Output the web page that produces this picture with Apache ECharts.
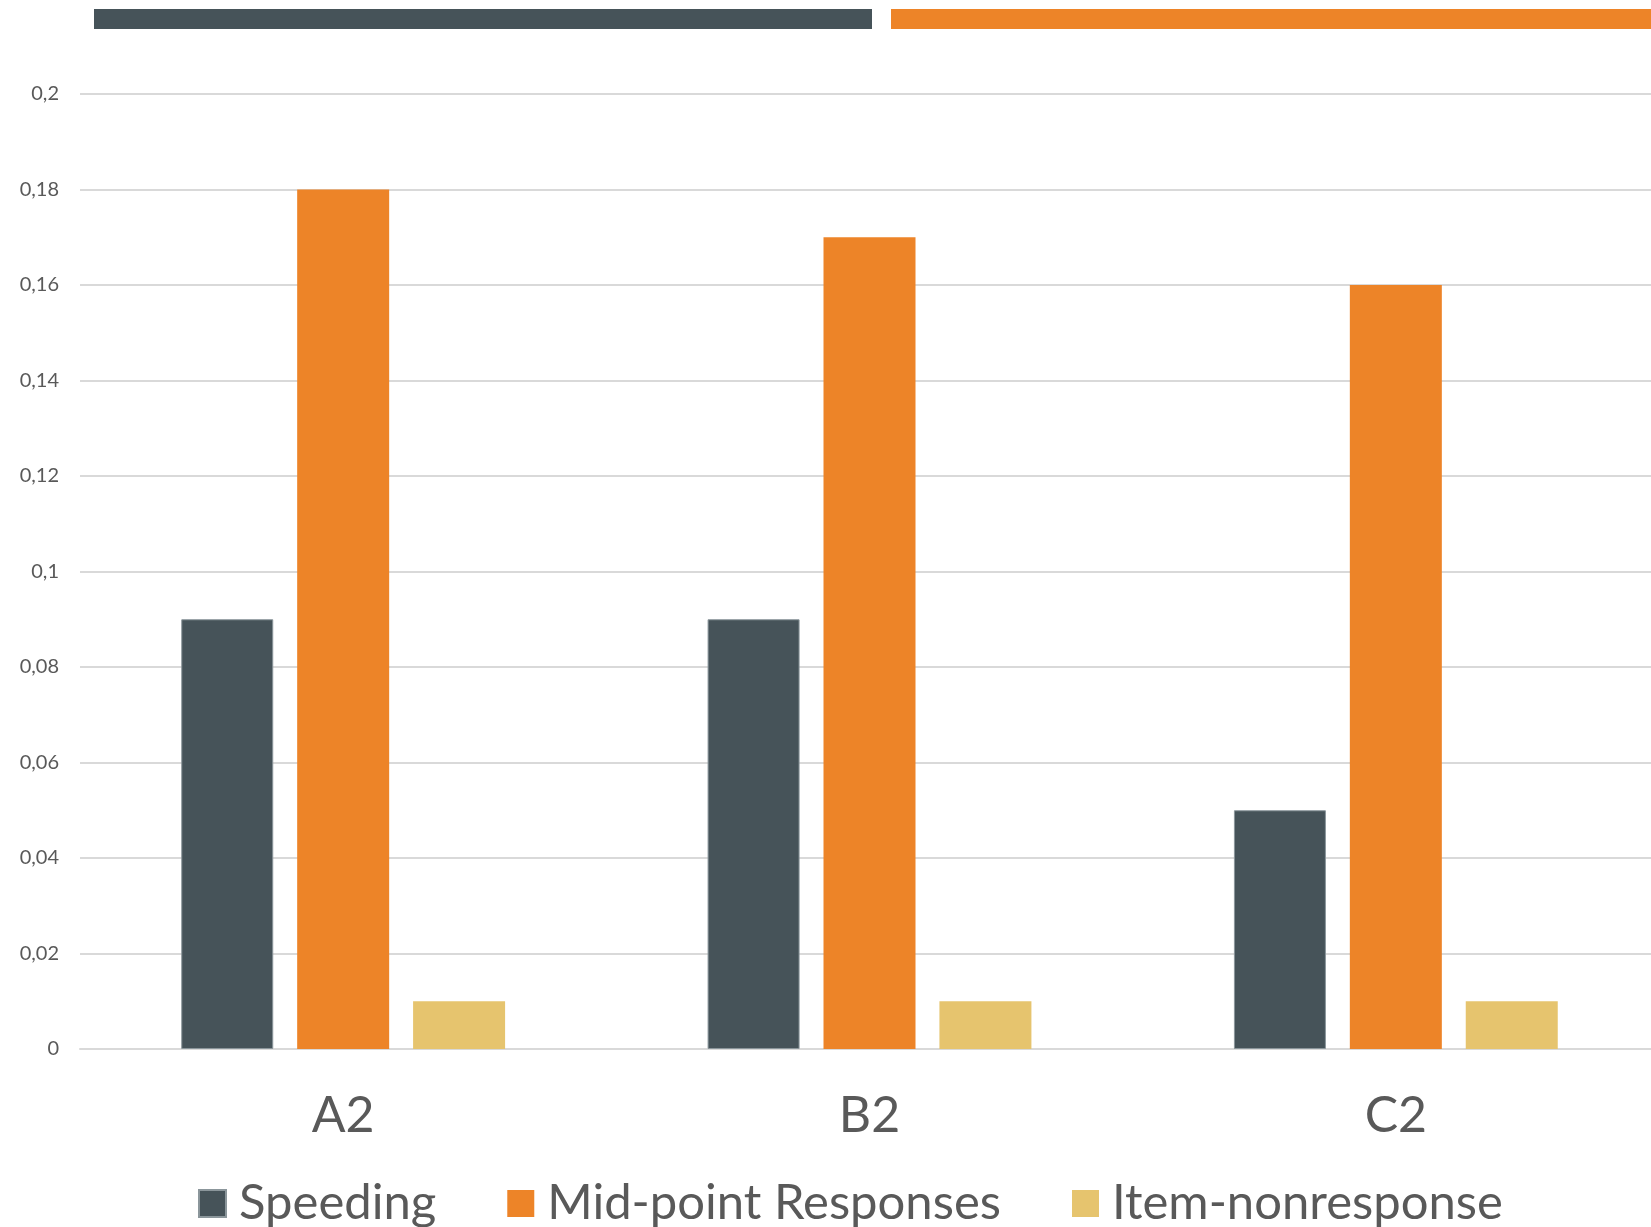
<!DOCTYPE html>
<html>
<head>
<meta charset="utf-8">
<script src="https://cdn.jsdelivr.net/npm/echarts@6/dist/echarts.min.js"></script>
<style>
  html, body { margin: 0; padding: 0; background: #ffffff; }
  #chart { width: 1651px; height: 1227px; }
</style>
</head>
<body>
<div id="chart"></div>
<script>
// Survey quality indicators per group
const categories = ['A2', 'B2', 'C2'];
const speeding = [0.09, 0.09, 0.05];
const midpoint = [0.18, 0.17, 0.16];
const nonresponse = [0.01, 0.01, 0.01];
const seriesNames = ['Speeding', 'Mid-point Responses', 'Item-nonresponse'];

const colors = ['#465359', '#ED8428', '#E6C46E'];
const textColor = '#595959';
const fontFamily = 'Lato, "Open Sans", sans-serif';

const chart = echarts.init(document.getElementById('chart'), null, { renderer: 'canvas' });

function barSeries(name, data, color, border) {
  return {
    name: name,
    type: 'bar',
    data: data,
    barWidth: 92,
    barGap: '26%',
    itemStyle: { color: color, borderColor: border, borderWidth: border ? 1 : 0 },
    emphasis: { disabled: true }
  };
}

chart.setOption({
  animation: false,
  backgroundColor: '#ffffff',
  textStyle: { fontFamily: fontFamily },
  color: colors,
  // header stripes above the plot
  graphic: [
    { type: 'rect', shape: { x: 94, y: 9, width: 778, height: 20 }, style: { fill: '#465359' } },
    { type: 'rect', shape: { x: 891, y: 9, width: 770, height: 20 }, style: { fill: '#ED8428' } }
  ],
  // the plot runs slightly past the right edge of the page
  grid: { left: 80, width: 1579, top: 94, height: 955, outerBoundsMode: 'none', containLabel: false },
  legend: {
    left: 193,
    top: 1174,
    itemWidth: 27,
    itemHeight: 27,
    itemGap: 71,
    icon: 'rect',
    selectedMode: false,
    data: seriesNames,
    textStyle: { fontSize: 49, color: textColor, fontFamily: fontFamily, padding: [0, 0, 0, 8] }
  },
  xAxis: {
    type: 'category',
    data: categories,
    axisLine: { show: true, lineStyle: { color: '#d9d9d9', width: 2 } },
    axisTick: { show: false },
    axisLabel: { fontSize: 50, color: textColor, margin: 42, fontFamily: fontFamily }
  },
  yAxis: {
    type: 'value',
    min: 0,
    max: 0.2,
    interval: 0.02,
    axisLine: { show: false },
    axisTick: { show: false },
    splitLine: { lineStyle: { color: '#d9d9d9', width: 2 } },
    axisLabel: {
      fontSize: 20,
      color: textColor,
      margin: 21,
      fontFamily: fontFamily,
      formatter: v => String(Math.round(v * 100) / 100).replace('.', ',')
    }
  },
  series: [
    barSeries(seriesNames[0], speeding, colors[0], '#8b969b'),
    barSeries(seriesNames[1], midpoint, colors[1], null),
    barSeries(seriesNames[2], nonresponse, colors[2], null)
  ]
});
</script>
</body>
</html>
